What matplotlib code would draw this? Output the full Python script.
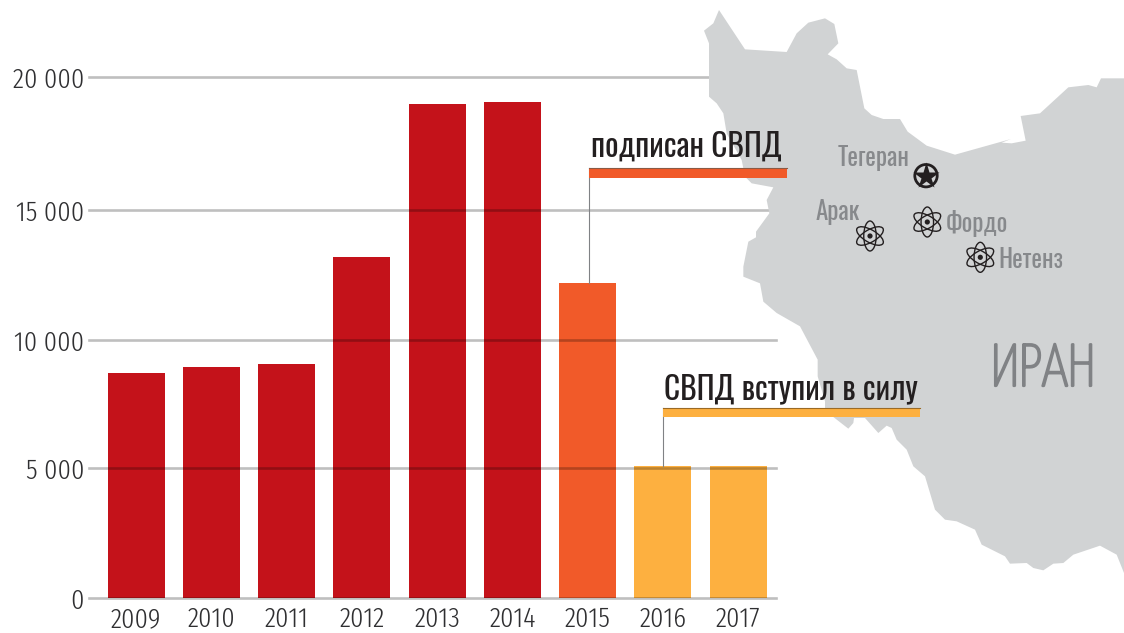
import numpy as np
import matplotlib
matplotlib.use("Agg")
import matplotlib.pyplot as plt
import matplotlib.patheffects as pe
from matplotlib.patches import Polygon, Ellipse, Circle, Rectangle

LIGHT = ['Fira Sans Extra Condensed', 'Roboto', 'DejaVu Sans']
COND = ['Oswald', 'Roboto', 'DejaVu Sans']
THIN = ['Yanone Kaffeesatz', 'Oswald', 'Roboto', 'DejaVu Sans']
plt.rcParams['font.family'] = LIGHT

# ---- data ----
years = ['2009', '2010', '2011', '2012', '2013', '2014', '2015', '2016', '2017']
values = [8710, 8945, 9060, 13190, 18985, 19060, 12190, 5075, 5075]
y_ticks = [0, 5000, 10000, 15000, 20000]
y_tick_labels = ['0', '5 000', '10 000', '15 000', '20 000']
bar_colors = ['#c4121a'] * 6 + ['#f15a29'] + ['#fdb040'] * 2

W, H = 1124, 633
fig = plt.figure(figsize=(W / 100, H / 100), dpi=100, facecolor='white')

def px_axes(x0, y_top, x1, y_bot):
    return [x0 / W, 1 - y_bot / H, (x1 - x0) / W, (y_bot - y_top) / H]

# ---- chart ----
ax = fig.add_axes(px_axes(89, 77, 776, 598))
ax.patch.set_visible(False)
anch_v = [-5000, 0, 5000, 10000, 15000, 20000, 25000]
anch_p = [-130, 0, 130, 258, 388, 521, 651]
ax.set_yscale('function', functions=(lambda v: np.interp(v, anch_v, anch_p),
                                     lambda p: np.interp(p, anch_p, anch_v)))
x = np.arange(len(years))
ax.bar(x, values, width=0.757, color=bar_colors, zorder=2)
ax.set_xlim(-0.625, 8.504)
ax.set_ylim(0, 20000)
ax.set_yticks(y_ticks, y_tick_labels)
ax.set_xticks(x, years)
ax.minorticks_off()
ax.tick_params(axis='both', length=0)
ax.tick_params(axis='y', labelsize=20.5, labelcolor='#2f2f31', pad=3.5)
ax.tick_params(axis='x', labelsize=20.5, labelcolor='#2f2f31', pad=5.5)
for lab in ax.get_yticklabels() + ax.get_xticklabels():
    lab.set_fontweight(300)
for s in ax.spines.values():
    s.set_visible(False)
ax.yaxis.grid(True, color='black', alpha=0.25, lw=1.9, zorder=3)
ax.set_axisbelow(False)
ax.xaxis.grid(False)
for gl in ax.get_ygridlines():
    gl.set_clip_on(False)

# ---- map & annotation overlay, in pixel coordinates ----
ov = fig.add_axes([0, 0, 1, 1])
ov.set_xlim(0, W)
ov.set_ylim(H, 0)
ov.axis('off')

z1 = [(117,30),(195,148),(320,156),(350,100),(385,68),(435,55),(463,72),(475,130),(443,163),
      (470,178),(500,205),(530,210),(553,325),(575,345),(610,357),(660,357),(683,395),(740,437),
      (825,464),(993,417),(965,428),(995,430),(1037,422),(1022,348),(1080,340),(1165,262),
      (1225,255),(1250,262),(1263,235),(1332,235),(1332,960)]
z2 = [(1332,780),(1310,725),(1260,698),(1180,725),(1150,750),(1120,752),(1090,772),(1060,765),
      (1040,750),(990,752),(975,730),(905,695),(885,650),(830,625),(795,620),(765,590),(735,490),
      (700,460),(680,410),(650,380),(635,345),(620,338),(595,360),(555,315),(522,315),(520,330),
      (505,347),(460,312),(435,285),(435,265),(413,190),(413,140),(360,40),(290,0)]
z3 = [(250,905),(240,850),(190,830),(190,800),(205,725),(228,712),(228,695),(268,640),(260,600),
      (280,562),(215,550),(195,530),(185,480),(140,400),(130,340),(110,310),(87,290),(87,130),
      (72,92),(100,70)]
outline = [(680 + a / 3, b / 3) for a, b in z1] + \
          [(680 + a / 3, 313 + b / 3) for a, b in z2] + \
          [(680 + a / 3, b / 3) for a, b in z3]
ov.add_patch(Polygon(outline, closed=True, fc='#d1d3d4', ec='none', zorder=1))

GREY = '#87898c'
INK = '#231f20'

def atom(cx, cy):
    for ang in (90, 30, -30):
        ov.add_patch(Ellipse((cx, cy), 12.5, 30, angle=ang - 90, fc='none', ec=INK, lw=1.0, zorder=3))
    ov.add_patch(Circle((cx, cy), 2.6, fc=INK, ec='none', zorder=3))

for c in [(870, 236), (927.3, 222), (980.3, 257.3)]:
    atom(*c)

ov.add_patch(Circle((926, 175.7), 11.2, fc='none', ec=INK, lw=2.0, zorder=3))
ov.plot([926], [175.7], marker='*', ms=20, color=INK, mec='none', zorder=3)

def label(px, py, s, size, color=GREY, family=COND):
    return ov.text(px, py, s, fontsize=size, color=color, ha='left', va='baseline',
                   family=family, zorder=5)

label(838, 166, 'Тегеран', 18)
label(816, 220, 'Арак', 18)
label(946, 232, 'Фордо', 18)
label(998, 268, 'Нетенз', 18)
iran = label(991, 386, 'ИРАН', 43, color='#808285', family=THIN)
iran.set_path_effects([pe.withStroke(linewidth=1.6, foreground='#808285')])

# callouts
ov.plot([589, 589], [168, 283], color='#808285', lw=0.8, zorder=4)
ov.plot([663, 663], [408, 466], color='#808285', lw=0.8, zorder=4)
ov.add_patch(Rectangle((589, 168), 198, 10, fc='#f15a29', ec='none', zorder=4))
ov.plot([589, 787], [168, 168], color='#8a5a45', lw=0.8, zorder=4)
ov.add_patch(Rectangle((663, 407.5), 257, 9.5, fc='#fdb040', ec='none', zorder=4))
ov.plot([663, 920], [407.5, 407.5], color='#9a6a25', lw=0.8, zorder=4)
label(591, 157, 'подписан СВПД', 22.7, color=INK)
label(664, 399, 'СВПД вступил в силу', 22.7, color=INK)

fig.savefig('out.png', dpi=100)
